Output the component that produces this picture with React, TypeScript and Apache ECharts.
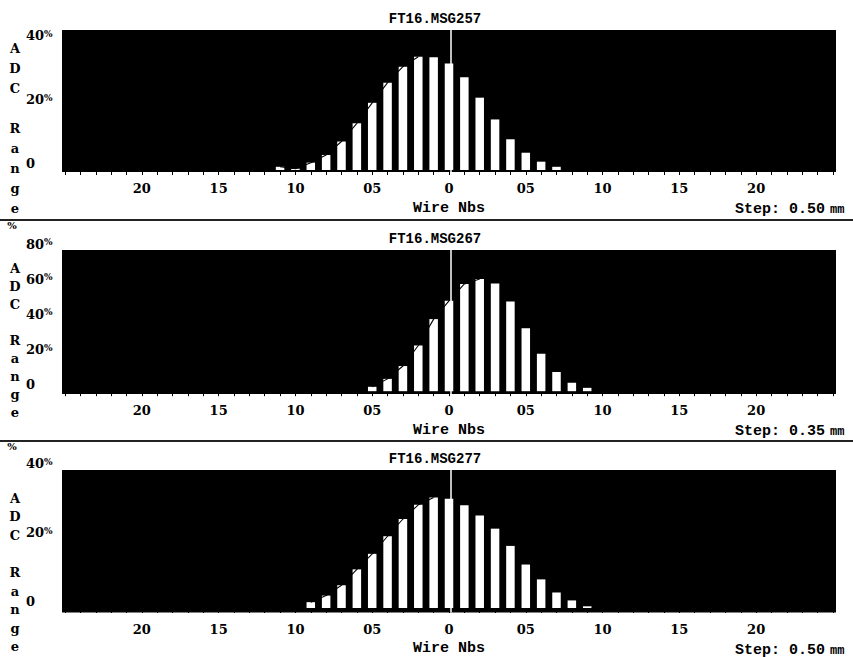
import React, { useEffect, useRef } from "react";
import * as echarts from "echarts";

// ---- data ----
const titles = ["FT16.MSG257", "FT16.MSG267", "FT16.MSG277"];
const steps = ["0.50", "0.35", "0.50"];

const wires1 = [-11, -10, -9, -8, -7, -6, -5, -4, -3, -2, -1, 0, 1, 2, 3, 4, 5, 6, 7];
const values1 = [1.0, 0.4, 2.3, 4.7, 8.9, 14.6, 21.0, 27.3, 32.3, 35.4, 35.2, 33.3, 29.0, 22.6, 15.8, 9.6, 5.4, 2.6, 1.0];

const wires2 = [-5, -4, -3, -2, -1, 0, 1, 2, 3, 4, 5, 6, 7, 8, 9];
const values2 = [2.5, 7.0, 14.3, 26.0, 41.0, 51.4, 61.0, 63.8, 61.3, 51.0, 35.8, 21.3, 10.9, 4.8, 1.9];

const wires3 = [-9, -8, -7, -6, -5, -4, -3, -2, -1, 0, 1, 2, 3, 4, 5, 6, 7, 8, 9];
const values3 = [1.7, 3.6, 6.6, 11.2, 15.7, 20.8, 25.8, 29.9, 32.0, 31.7, 29.8, 26.8, 23.0, 18.0, 12.6, 8.3, 4.5, 2.2, 0.5];

const yLabelValues = [[0, 20, 40], [0, 20, 40, 60, 80], [0, 20, 40]];
const yTickValues = [[20], [0, 10, 20, 30, 40, 50, 60, 70, 80], [0, 10, 20, 30, 40]];
const yRanges = [[-0.625, 43.75], [-1.6, 80.3], [-1.3, 40]];

const xLabelValues = [-20, -15, -10, -5, 0, 5, 10, 15, 20];
const xTickValues = [
  -25, -24, -23, -22, -21, -20, -19, -18, -17, -16, -15, -14, -13, -12, -11, -10, -9, -8, -7, -6, -5, -4, -3, -2, -1,
  0, 1, 2, 3, 4, 5, 6, 7, 8, 9, 10, 11, 12, 13, 14, 15, 16, 17, 18, 19, 20, 21, 22, 23, 24, 25,
];
const xRange = [-25.2, 25.2];
const centerMark = 0.1;

const axisLetters = ["A", "D", "C", "", "R", "a", "n", "g", "e"];

// ---- layout ----
const W = 853;
const H = 657;
const gridLeft = 62;
const gridRight = 17;
const panelTops = [30, 250, 470];
const panelHeights = [142, 144, 143];
const letterStart = [48, 268, 498];
const letterStep = [20, 18.1, 18.6];
const separators = [220, 441];

const wiresAll = [wires1, wires2, wires3];
const valuesAll = [values1, values2, values3];
const seriesData = wiresAll.map((ws, k) => ws.map((w, i) => [w, valuesAll[k][i]]));

const numFont = "'DejaVu Serif', serif";
const monoFont = "'Liberation Mono', monospace";

function fmtX(v: number) {
  const a = Math.abs(Math.round(v));
  if (a === 0) return "0";
  return a < 10 ? "0" + a : String(a);
}

export default function App() {
  const ref = useRef<HTMLDivElement>(null);
  useEffect(() => {
    if (!ref.current) return;
    const chart = echarts.init(ref.current, undefined, { renderer: "svg" });

    const grids = panelTops.map((t, i) => ({
      left: gridLeft,
      right: gridRight,
      top: t,
      height: panelHeights[i],
      show: true,
      backgroundColor: "#000",
      borderWidth: 0,
    }));

    const xAxes = panelTops.map((_, i) => ({
      type: "value",
      gridIndex: i,
      min: xRange[0],
      max: xRange[1],
      splitLine: { show: false },
      axisLine: { show: false },
      axisTick: {
        show: true,
        inside: false,
        length: 5,
        customValues: xTickValues,
        lineStyle: { color: "#000", width: 1 },
      },
      axisLabel: {
        show: true,
        customValues: xLabelValues,
        formatter: (v: number) => fmtX(v),
        margin: 10,
        fontFamily: numFont,
        fontWeight: "bold",
        fontSize: 13,
        color: "#000",
      },
      name: "Wire Nbs",
      nameLocation: "middle",
      nameGap: 36,
      nameTextStyle: {
        fontFamily: monoFont,
        fontWeight: "bold",
        fontSize: 15,
        color: "#000",
        verticalAlign: "middle",
      },
    }));

    const yAxes = panelTops.map((_, i) => ({
      type: "value",
      gridIndex: i,
      min: yRanges[i][0],
      max: yRanges[i][1],
      splitLine: { show: false },
      axisLine: { show: false },
      axisTick: {
        show: true,
        inside: false,
        length: 3,
        customValues: yTickValues[i],
        lineStyle: { color: "#000", width: 1 },
      },
      axisLabel: {
        show: true,
        customValues: yLabelValues[i],
        align: "left",
        verticalAlign: "bottom",
        margin: 36,
        formatter: (v: number) => (v === 0 ? "{n|0}" : "{n|" + v + "}{p|%}"),
        rich: {
          n: { fontFamily: numFont, fontWeight: "bold", fontSize: 13, color: "#000" },
          p: { fontFamily: numFont, fontWeight: "bold", fontSize: 9, color: "#000", verticalAlign: "top" },
        },
      },
    }));

    const series: any[] = [];
    seriesData.forEach((d, i) => {
      const vals = valuesAll[i];
      const peak = vals.indexOf(Math.max(...vals));
      series.push({
        type: "bar",
        xAxisIndex: i,
        yAxisIndex: i,
        data: d,
        barWidth: 8.5,
        itemStyle: { color: "#fff" },
        z: 2,
        markLine: {
          silent: true,
          symbol: ["none", "none"],
          label: { show: false },
          lineStyle: { color: "#fff", width: 1.5, type: "solid" },
          data: [{ xAxis: centerMark }],
        },
      });
      // rising profile line (visible only where it crosses the white bars)
      series.push({
        type: "line",
        xAxisIndex: i,
        yAxisIndex: i,
        data: d.slice(0, peak + 1),
        symbol: "none",
        lineStyle: { color: "#000", width: 1.1 },
        z: 4,
      });
    });

    const graphic: any[] = [];
    panelTops.forEach((t, i) => {
      graphic.push({
        type: "text",
        x: 435,
        y: t - 11,
        style: {
          text: titles[i],
          fontFamily: monoFont,
          fontWeight: "bold",
          fontSize: 14,
          fill: "#000",
          textAlign: "center",
          textVerticalAlign: "middle",
        },
      });
      graphic.push({
        type: "text",
        x: 735,
        y: t + panelHeights[i] + 37,
        style: {
          text: "Step: " + steps[i],
          fontFamily: monoFont,
          fontWeight: "bold",
          fontSize: 15,
          fill: "#000",
          textAlign: "left",
          textVerticalAlign: "middle",
        },
      });
      graphic.push({
        type: "text",
        x: 830,
        y: t + panelHeights[i] + 38,
        style: {
          text: "mm",
          fontFamily: monoFont,
          fontWeight: "bold",
          fontSize: 12,
          fill: "#000",
          textAlign: "left",
          textVerticalAlign: "middle",
        },
      });
      axisLetters.forEach((ch, j) => {
        if (!ch) return;
        graphic.push({
          type: "text",
          x: 15,
          y: letterStart[i] + j * letterStep[i],
          style: {
            text: ch,
            fontFamily: numFont,
            fontWeight: "bold",
            fontSize: 13,
            fill: "#000",
            textAlign: "center",
            textVerticalAlign: "middle",
          },
        });
      });
    });
    separators.forEach((y) => {
      graphic.push({
        type: "line",
        shape: { x1: 0, y1: y, x2: W, y2: y },
        style: { stroke: "#222", lineWidth: 2 },
      });
      graphic.push({
        type: "text",
        x: 12,
        y: y + 5,
        style: {
          text: "%",
          fontFamily: numFont,
          fontWeight: "bold",
          fontSize: 10,
          fill: "#000",
          textAlign: "center",
          textVerticalAlign: "middle",
        },
      });
    });

    chart.setOption({
      animation: false,
      backgroundColor: "#fff",
      grid: grids,
      xAxis: xAxes,
      yAxis: yAxes,
      series,
      graphic,
    });
    return () => chart.dispose();
  }, []);

  return (
    <div
      ref={ref}
      style={{ position: "fixed", left: 0, top: 0, width: W, height: H, background: "#fff" }}
    />
  );
}
